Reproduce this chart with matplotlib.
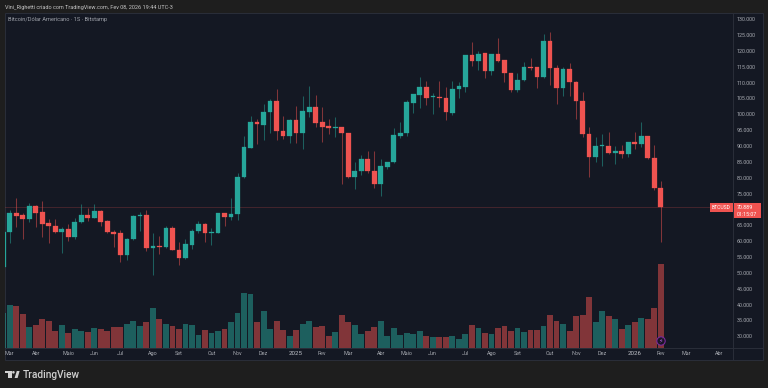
import matplotlib
matplotlib.use("Agg")
import matplotlib.pyplot as plt
from matplotlib.patches import Rectangle, Circle, Polygon

W, H = 768, 388

# weekly candles, thousands of USD
opens = [52.0, 62.9, 68.9, 68.3, 67.0, 71.35, 69.25, 65.8, 64.9, 63.0,
         64.0, 61.4, 66.1, 68.4, 67.6, 69.7, 66.5, 63.1, 62.6, 55.8,
         60.7, 68.1, 68.3, 58.0, 58.7, 58.2, 64.4, 57.3, 54.7, 59.0,
         63.5, 65.6, 62.7, 62.7, 69.0, 67.8, 68.7, 80.3, 89.6, 97.8,
         96.9, 101.0, 104.3, 94.9, 93.3, 98.3, 94.4, 101.0, 102.4, 97.6,
         96.5, 95.9, 96.2, 94.2, 80.5, 82.4, 86.1, 82.3, 78.2, 83.5,
         85.0, 93.4, 94.1, 103.8, 106.3, 108.9, 105.5, 105.7, 105.4, 100.7,
         108.2, 108.9, 118.9, 116.9, 119.4, 113.9, 119.1, 117.2, 113.3, 107.9,
         110.9, 115.1, 115.1, 111.9, 123.3, 114.8, 108.4, 114.3, 110.4, 104.5,
         94.0, 86.6, 90.1, 90.3, 88.0, 88.6, 87.6, 91.3, 90.7, 93.4,
         86.4, 76.8]
highs = [63.1, 70.0, 73.7, 69.0, 72.1, 71.6, 72.8, 67.0, 67.1, 64.5,
         65.6, 67.3, 72.0, 70.5, 71.9, 70.0, 66.8, 63.7, 63.7, 61.0,
         68.3, 69.2, 70.0, 62.6, 61.8, 65.0, 65.0, 59.8, 60.7, 63.9,
         66.5, 65.8, 64.4, 69.1, 69.1, 73.7, 81.5, 93.3, 99.6, 98.6,
         103.4, 105.0, 108.2, 99.7, 98.7, 102.8, 106.0, 109.1, 106.3, 102.4,
         98.7, 99.3, 96.2, 94.2, 85.2, 87.3, 88.7, 88.5, 86.2, 85.2,
         95.7, 97.8, 104.7, 106.5, 111.8, 110.7, 106.8, 110.5, 108.9, 110.5,
         110.3, 119.0, 123.0, 120.0, 119.6, 119.1, 124.3, 117.3, 113.3, 113.3,
         116.7, 117.8, 115.1, 125.5, 126.0, 115.7, 115.2, 116.2, 110.7, 107.2,
         96.0, 93.1, 94.0, 94.6, 90.2, 90.4, 91.5, 94.7, 97.8, 93.4,
         90.4, 79.2]
lows = [51.6, 59.5, 64.7, 60.7, 66.3, 64.7, 61.3, 59.7, 62.6, 56.3,
        60.2, 60.8, 65.8, 66.5, 67.4, 65.0, 62.6, 58.4, 53.5, 54.2,
        60.5, 63.5, 57.0, 49.5, 56.1, 57.9, 57.3, 52.6, 54.5, 57.6,
        62.6, 60.0, 58.8, 62.6, 64.9, 66.8, 66.8, 80.2, 89.4, 90.8,
        92.1, 94.2, 92.1, 92.3, 91.2, 91.2, 89.1, 99.4, 96.0, 91.3,
        93.9, 93.1, 78.2, 80.0, 76.5, 81.0, 81.5, 77.0, 74.4, 83.0,
        84.9, 92.6, 93.3, 100.5, 102.0, 103.1, 100.3, 102.6, 98.2, 100.0,
        105.2, 107.2, 115.5, 114.1, 111.7, 112.5, 116.8, 110.4, 107.2, 107.2,
        110.5, 114.1, 108.4, 111.5, 109.4, 103.4, 106.0, 106.0, 98.7, 92.9,
        80.5, 85.0, 83.9, 87.6, 84.4, 86.3, 86.6, 89.1, 89.9, 86.0,
        76.3, 60.0]
closes = [63.0, 69.1, 68.1, 67.0, 71.2, 69.1, 65.55, 64.8, 63.0, 64.0,
          61.4, 66.3, 68.4, 67.6, 69.7, 66.3, 62.9, 62.5, 55.7, 60.8,
          68.2, 68.4, 58.1, 58.7, 58.4, 64.3, 57.3, 54.7, 59.1, 63.5,
          65.7, 62.7, 63.0, 69.0, 67.8, 68.7, 80.3, 89.8, 97.8, 97.1,
          101.0, 104.3, 94.9, 93.3, 98.2, 94.4, 101.1, 102.4, 97.5, 96.3,
          95.9, 96.1, 94.1, 80.5, 82.4, 86.1, 82.2, 78.1, 83.7, 85.1,
          93.6, 94.2, 104.0, 106.4, 108.9, 105.4, 105.8, 105.3, 100.8, 108.2,
          109.0, 119.0, 117.0, 119.2, 113.9, 119.1, 117.1, 113.2, 107.9, 111.0,
          115.1, 114.8, 111.9, 123.3, 114.8, 108.4, 114.4, 110.3, 104.4, 93.9,
          86.6, 90.3, 90.4, 87.9, 88.6, 87.6, 91.3, 90.7, 93.4, 86.3,
          76.8, 70.889]
volumes = [34.3, 42.7, 41.7, 33.7, 20.3, 22.3, 29.0, 26.7, 16.3, 23.0,
           15.0, 18.7, 17.0, 15.3, 19.7, 19.0, 17.0, 21.0, 21.0, 23.3,
           26.7, 21.3, 26.0, 39.3, 28.3, 23.3, 22.0, 19.0, 23.7, 22.3,
           13.0, 18.0, 14.7, 16.7, 18.3, 25.3, 35.0, 55.0, 53.3, 25.7,
           36.7, 18.3, 26.3, 17.3, 12.0, 17.3, 23.3, 26.3, 21.0, 21.3,
           11.3, 15.7, 32.3, 25.7, 22.3, 14.0, 16.3, 21.0, 26.3, 11.7,
           20.0, 12.7, 14.3, 13.7, 16.7, 11.7, 11.0, 10.3, 11.0, 11.7,
           8.3, 13.3, 23.0, 19.3, 14.3, 13.7, 20.0, 21.7, 17.0, 19.3,
           15.7, 18.0, 17.7, 22.0, 33.0, 27.0, 23.3, 17.0, 31.7, 32.3,
           50.7, 26.0, 36.7, 31.3, 29.0, 18.3, 22.3, 26.0, 30.0, 29.0,
           40.0, 84.0]

price_ticks = list(range(30, 131, 5))
time_idx = [1, 5, 10, 14, 18, 23, 27, 32, 36, 40, 45, 49, 53, 58, 62, 66, 71,
            75, 79, 84, 88, 92, 97, 101, 105, 110]
time_labels = ["Mar", "Abr", "Maio", "Jun", "Jul", "Ago", "Set", "Out", "Nov",
               "Dez", "2025", "Fev", "Mar", "Abr", "Maio", "Jun", "Jul", "Ago",
               "Set", "Out", "Nov", "Dez", "2026", "Fev", "Mar", "Abr"]
last_price = 70.889

BG = "#1e1e1e"
PANE = "#141823"
LINE = "#2a2e39"
UP = "#26a69a"
DOWN = "#ef5350"
TXT = "#a6a9b0"
FONT = "Roboto"

fig = plt.figure(figsize=(W / 100, H / 100), dpi=100, facecolor=BG)
to_fig = matplotlib.transforms.Affine2D().scale(1 / W, -1 / H).translate(0, 1) + fig.transFigure


def px_axes(x0, y0, x1, y1):
    return fig.add_axes([x0 / W, 1 - y1 / H, (x1 - x0) / W, (y1 - y0) / H])


def px_text(x, y, s, **kw):
    kw.setdefault("family", FONT)
    kw.setdefault("va", "center")
    fig.text(x / W, 1 - y / H, s, **kw)


def add_px(p):
    p.set_transform(to_fig)
    fig.add_artist(p)


# dark pane with frame, price scale and time scale included
add_px(Rectangle((4.5, 13), 758.5, 347, fc=PANE, ec=LINE, lw=0.7, zorder=-1))

# volume sits in its own axes, one unit is one pixel high
ax_vol = px_axes(4.5, 13, 733, 347.5)
ax_vol.set_facecolor("none")
ax_vol.set_xlim(0.206, 112.1)
ax_vol.set_ylim(0, 334.5)
ax_vol.axis("off")
for i, v in enumerate(volumes):
    up = closes[i] >= opens[i]
    ax_vol.bar(i, v, width=0.9, color=UP if up else DOWN, alpha=0.5, lw=0)

ax = px_axes(4.5, 13, 733, 347.5)
ax.set_facecolor("none")
ax.set_xlim(0.206, 112.1)
ax.set_ylim(26.6, 132.1)
ax.axis("off")
ax.axhline(last_price, color=DOWN, alpha=0.25, lw=0.6)
for i in range(len(opens)):
    up = closes[i] >= opens[i]
    col = UP if up else DOWN
    ax.plot([i, i], [lows[i], highs[i]], color=col, alpha=0.5, lw=0.75,
            solid_capstyle="butt", zorder=2)
    ax.add_patch(Rectangle((i - 0.36, min(opens[i], closes[i])), 0.72,
                           abs(closes[i] - opens[i]), fc=col, ec=col, lw=0.2, zorder=3))

# price scale labels
for v in price_ticks:
    y = 130.7 + (95 - v) * 3.17
    if abs(v - last_price) < 4:
        continue
    px_text(737, y, f"{v}.000", color=TXT, fontsize=3.9, ha="left")

# last price tags
y_last = 130.7 + (95 - last_price) * 3.17
add_px(Rectangle((710, 203.3), 22.7, 8.4, fc=DOWN, ec="none"))
add_px(Rectangle((733.3, 203.3), 28, 14.4, fc=DOWN, ec="none"))
px_text(721.3, y_last, "BTCUSD", color="white", fontsize=3.6, ha="center", zorder=6)
px_text(737, y_last, "70.889", color="white", fontsize=3.9, ha="left", zorder=6)
px_text(737, 214, "01:15:07", color="white", fontsize=3.9, ha="left", zorder=6)

# scale separators
fig.add_artist(plt.Line2D([733 / W, 733 / W], [1 - 13 / H, 1 - 360 / H], color=LINE, lw=0.7))
fig.add_artist(plt.Line2D([4.5 / W, 763 / W], [1 - 347.5 / H, 1 - 347.5 / H], color=LINE, lw=0.7))

# time scale
for idx, lab in zip(time_idx, time_labels):
    x = 3.16 + 6.51 * idx
    bold = lab in ("2025", "2026")
    px_text(x, 353.8, lab, color="#c0c3ca" if bold else TXT,
            fontsize=4.4 if bold else 3.9, ha="center")

# header and legend
px_text(5, 7, "Vini_Righetti criado com TradingView.com, Fev 08, 2026 19:44 UTC-3",
        color="#c4c4c4", fontsize=4.0, ha="left")
px_text(8, 19.7, "Bitcoin/Dólar Americano · 1S · Bitstamp", color="#9fa2aa", fontsize=4.1, ha="left")

# news bolt over the last volume bar
add_px(Circle((661, 341), 4.2, fc="#1a1526", ec="#7b2a9c", lw=0.8, zorder=6))
px_text(661, 341, "⚡", family="DejaVu Sans", color="#b060d8", fontsize=4.5, ha="center", zorder=7)

# TradingView logo
logo = "#d0d0d0"
add_px(Rectangle((5.2, 371), 6.4, 2.4, fc=logo, ec="none"))
add_px(Rectangle((8.2, 371), 3.4, 7, fc=logo, ec="none"))
add_px(Circle((13.4, 372.3), 1.3, fc=logo, ec="none"))
add_px(Polygon([(14.6, 378), (16.8, 371), (19.6, 371), (17.6, 378)], fc=logo, ec="none"))
px_text(22.7, 374.6, "TradingView", color=logo, fontsize=7.3, ha="left", weight="medium")

fig.savefig("out.png", dpi=100, facecolor=BG)
